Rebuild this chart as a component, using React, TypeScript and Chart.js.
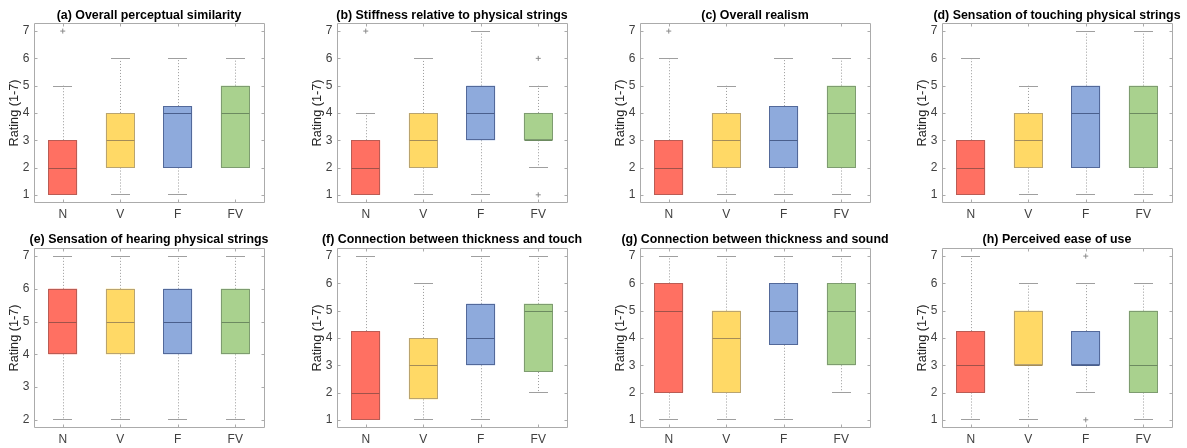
import React, { useEffect, useRef } from 'react';
import { Chart, registerables } from 'chart.js';

Chart.register(...registerables);

const categories = ['N', 'V', 'F', 'FV'];

const titles = [
  '(a) Overall perceptual similarity',
  '(b) Stiffness relative to physical strings',
  '(c) Overall realism',
  '(d) Sensation of touching physical strings',
  '(e) Sensation of hearing physical strings',
  '(f) Connection between thickness and touch',
  '(g) Connection between thickness and sound',
  '(h) Perceived ease of use',
];

const whiskerLow = [
  [1, 1, 1, 2],
  [1, 1, 1, 2],
  [1, 1, 1, 1],
  [1, 1, 1, 1],
  [2, 2, 2, 2],
  [1, 1, 1, 2],
  [1, 1, 1, 2],
  [1, 1, 2, 1],
];
const quartile1 = [
  [1, 2, 2, 2],
  [1, 2, 3, 3],
  [1, 2, 2, 2],
  [1, 2, 2, 2],
  [4, 4, 4, 4],
  [1, 1.75, 3, 2.75],
  [2, 2, 3.75, 3],
  [2, 3, 3, 2],
];
const medians = [
  [2, 3, 4, 4],
  [2, 3, 4, 3],
  [2, 3, 3, 4],
  [2, 3, 4, 4],
  [5, 5, 5, 5],
  [2, 3, 4, 5],
  [5, 4, 5, 5],
  [3, 3, 3, 3],
];
const quartile3 = [
  [3, 4, 4.25, 5],
  [3, 4, 5, 4],
  [3, 4, 4.25, 5],
  [3, 4, 5, 5],
  [6, 6, 6, 6],
  [4.25, 4, 5.25, 5.25],
  [6, 5, 6, 6],
  [4.25, 5, 4.25, 5],
];
const whiskerHigh = [
  [5, 6, 6, 6],
  [4, 6, 7, 5],
  [6, 5, 6, 6],
  [6, 5, 7, 7],
  [7, 7, 7, 7],
  [7, 6, 7, 7],
  [7, 7, 7, 7],
  [7, 6, 6, 6],
];
const outliers = [
  [{ x: 'N', y: 7 }],
  [{ x: 'N', y: 7 }, { x: 'FV', y: 6 }, { x: 'FV', y: 1 }],
  [{ x: 'N', y: 7 }],
  [],
  [],
  [],
  [],
  [{ x: 'F', y: 7 }, { x: 'F', y: 1 }],
];

const yMin = [0.7, 0.7, 0.7, 0.7, 1.75, 0.7, 0.7, 0.7];
const yMax = [7.3, 7.3, 7.3, 7.3, 7.25, 7.3, 7.3, 7.3];
const yTicksFull = [1, 2, 3, 4, 5, 6, 7];
const yTicksHearing = [2, 3, 4, 5, 6, 7];
const yTicks = [yTicksFull, yTicksFull, yTicksFull, yTicksFull, yTicksHearing, yTicksFull, yTicksFull, yTicksFull];

const fills = ['#FF7062', '#FFD966', '#8EAADC', '#A9D18E'];
const edges = ['#BA5C54', '#B9A470', '#53699A', '#7E9C70'];
const medianColors = ['#A0524A', '#A48C58', '#4A5F8C', '#6C8A60'];

const FONT = "'Liberation Sans', Arial, Helvetica, sans-serif";
const axisLefts = [34, 337, 640, 942];
const rowTops = [0, 224];
const SIDE = 34;
const PLOT_W = 230;
const CANVAS_W = PLOT_W + 2 * SIDE;
const CANVAS_H = 224;
const FRAME = '#ababab';

function Panel({ idx }: { idx: number }) {
  const ref = useRef<HTMLCanvasElement>(null);
  useEffect(() => {
    const row = Math.floor(idx / 4);
    const titlePad = row === 0 ? { top: 9.5, bottom: 1 } : { top: 9.75, bottom: 1.75 };
    const xH = row === 0 ? 21 : 20;

    const boxParts = {
      id: 'boxParts',
      beforeDatasetsDraw(chart: any) {
        const ctx = chart.ctx;
        const ys = chart.scales.y;
        const meta = chart.getDatasetMeta(0);
        ctx.save();
        meta.data.forEach((bar: any, i: number) => {
          const cx = Math.round(bar.x) + 0.5;
          const capHalf = bar.width * 0.33;
          const lo = ys.getPixelForValue(whiskerLow[idx][i]);
          const q1 = ys.getPixelForValue(quartile1[idx][i]);
          const q3 = ys.getPixelForValue(quartile3[idx][i]);
          const hi = ys.getPixelForValue(whiskerHigh[idx][i]);
          ctx.strokeStyle = '#9a9a9a';
          ctx.lineWidth = 1;
          ctx.setLineDash([1, 2]);
          ctx.beginPath();
          ctx.moveTo(cx, q3);
          ctx.lineTo(cx, hi);
          ctx.moveTo(cx, q1);
          ctx.lineTo(cx, lo);
          ctx.stroke();
          ctx.setLineDash([]);
          ctx.strokeStyle = '#9f9f9f';
          ctx.beginPath();
          const hiY = Math.round(hi) + 0.5;
          const loY = Math.round(lo) - 0.5;
          ctx.moveTo(Math.round(bar.x - capHalf), hiY);
          ctx.lineTo(Math.round(bar.x + capHalf), hiY);
          ctx.moveTo(Math.round(bar.x - capHalf), loY);
          ctx.lineTo(Math.round(bar.x + capHalf), loY);
          ctx.stroke();
        });
        ctx.restore();
      },
      afterDatasetsDraw(chart: any) {
        const ctx = chart.ctx;
        const ys = chart.scales.y;
        const xs = chart.scales.x;
        const meta = chart.getDatasetMeta(0);
        const { left, right, top, bottom } = chart.chartArea;
        ctx.save();
        ctx.lineWidth = 1;
        meta.data.forEach((bar: any, i: number) => {
          const bl = Math.round(bar.x - bar.width / 2) + 0.5;
          const br = Math.round(bar.x + bar.width / 2) - 0.5;
          const bt = Math.round(Math.min(bar.y, bar.base)) + 0.5;
          const bb = Math.round(Math.max(bar.y, bar.base)) - 0.5;
          ctx.strokeStyle = edges[i];
          ctx.strokeRect(bl, bt, br - bl, bb - bt);
          const my = Math.round(ys.getPixelForValue(medians[idx][i])) + 0.5;
          ctx.strokeStyle = medianColors[i];
          ctx.beginPath();
          ctx.moveTo(bl, my);
          ctx.lineTo(br, my);
          ctx.stroke();
        });
        ctx.strokeStyle = FRAME;
        const L = Math.round(left) + 0.5;
        const R = Math.round(right) + 0.5;
        const T = Math.round(top) + 0.5;
        const B = Math.round(bottom) - 0.5;
        ctx.beginPath();
        ctx.moveTo(L, T);
        ctx.lineTo(R, T);
        ctx.lineTo(R, B);
        ctx.lineTo(L, B);
        ctx.closePath();
        yTicks[idx].forEach((v) => {
          const py = Math.round(ys.getPixelForValue(v)) + 0.5;
          ctx.moveTo(L, py);
          ctx.lineTo(L + 3, py);
          ctx.moveTo(R, py);
          ctx.lineTo(R - 3, py);
        });
        categories.forEach((_, i) => {
          const px = Math.round(xs.getPixelForValue(i)) + 0.5;
          ctx.moveTo(px, B);
          ctx.lineTo(px, B - 3);
          ctx.moveTo(px, T);
          ctx.lineTo(px, T + 3);
        });
        ctx.stroke();
        ctx.restore();
      },
    };

    const chart = new Chart(ref.current as HTMLCanvasElement, {
      type: 'bar',
      data: {
        labels: categories,
        datasets: [
          {
            type: 'bar',
            data: categories.map((_, i) => [quartile1[idx][i], quartile3[idx][i]]),
            backgroundColor: fills,
            borderWidth: 0,
            borderSkipped: false,
            barPercentage: 0.5,
            categoryPercentage: 1,
            xAxisID: 'x',
            yAxisID: 'y',
          } as any,
          {
            type: 'scatter',
            data: outliers[idx] as any,
            pointStyle: 'cross',
            radius: 2.5,
            borderColor: '#8a8a8a',
            borderWidth: 1,
            xAxisID: 'x',
            yAxisID: 'y',
          } as any,
        ],
      },
      options: {
        responsive: false,
        animation: false,
        events: [],
        layout: { padding: 0 },
        plugins: {
          legend: { display: false },
          tooltip: { enabled: false },
          title: {
            display: true,
            text: titles[idx],
            color: '#000000',
            font: { family: FONT, size: 12.4, weight: 'bold', lineHeight: 1 },
            padding: titlePad,
          },
        },
        scales: {
          x: {
            type: 'category',
            position: 'bottom',
            offset: true,
            grid: { display: false, drawTicks: false },
            border: { display: false },
            ticks: { color: '#404040', font: { family: FONT, size: 12 }, padding: 4.8, maxRotation: 0 },
            afterFit: (s: any) => {
              s.height = xH;
            },
          },
          y: {
            type: 'linear',
            position: 'left',
            min: yMin[idx],
            max: yMax[idx],
            grid: { display: false, drawTicks: false },
            border: { display: false },
            ticks: { color: '#404040', font: { family: FONT, size: 12 }, padding: 4.5 },
            afterBuildTicks: (s: any) => {
              s.ticks = yTicks[idx].map((v) => ({ value: v }));
            },
            afterFit: (s: any) => {
              s.width = SIDE;
            },
            title: {
              display: true,
              text: 'Rating (1-7)',
              color: '#262626',
              font: { family: FONT, size: 12.7, lineHeight: 1 },
              padding: { top: 8.5, bottom: 0 },
            },
          },
          y2: {
            type: 'linear',
            position: 'right',
            min: yMin[idx],
            max: yMax[idx],
            grid: { display: false, drawTicks: false },
            border: { display: false },
            ticks: { display: false },
            afterFit: (s: any) => {
              s.width = SIDE;
            },
          },
        },
      } as any,
      plugins: [boxParts],
    });
    return () => chart.destroy();
  }, [idx]);

  const row = Math.floor(idx / 4);
  const col = idx % 4;
  return (
    <canvas
      ref={ref}
      width={CANVAS_W}
      height={CANVAS_H}
      style={{
        position: 'absolute',
        left: axisLefts[col] - SIDE,
        top: rowTops[row],
        width: CANVAS_W,
        height: CANVAS_H,
      }}
    />
  );
}

export default function App() {
  return (
    <div
      style={{
        position: 'fixed',
        left: 0,
        top: 0,
        width: 1187,
        height: 448,
        overflow: 'hidden',
        background: '#ffffff',
      }}
    >
      {titles.map((_, i) => (
        <Panel key={i} idx={i} />
      ))}
    </div>
  );
}
